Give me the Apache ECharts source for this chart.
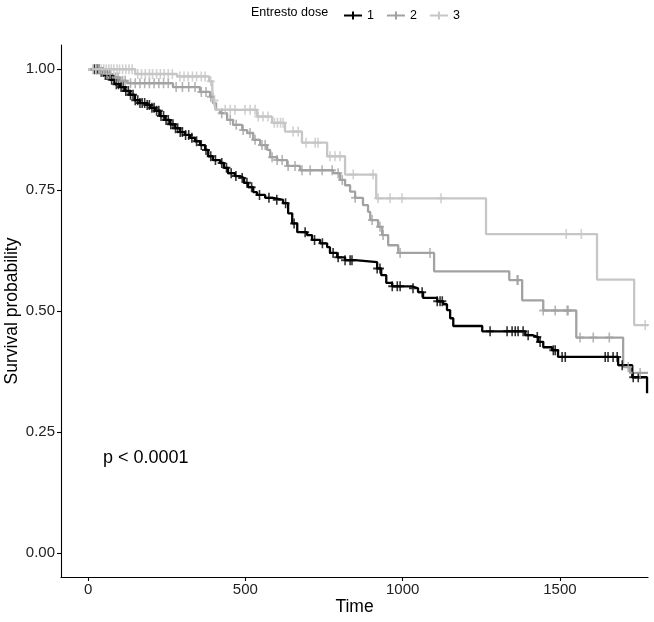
<!DOCTYPE html>
<html><head><meta charset="utf-8">
<script src="https://cdn.jsdelivr.net/npm/echarts@6/dist/echarts.min.js"></script>
<style>html,body{margin:0;padding:0;background:#fff}#c{width:654px;height:622px}</style>
</head><body><div id="c"></div>
<script>
const groups = ['1', '2', '3'];
const legendTitle = 'Entresto dose';
const xTicks = [0, 500, 1000, 1500];
const yTicks = [0, 0.25, 0.5, 0.75, 1];
const pText = 'p < 0.0001';

// Kaplan-Meier steps: [time, survival from this time on]
const surv1 = [[0,1],[38,0.994],[51,0.988],[70,0.978],[86,0.969],[102,0.963],[118,0.955],[134,0.947],[149,0.936],[165,0.930],[181,0.926],[197,0.920],[213,0.914],[229,0.903],[245,0.895],[261,0.886],[277,0.878],[293,0.870],[308,0.864],[324,0.858],[340,0.851],[356,0.843],[372,0.833],[382,0.820],[397,0.812],[420,0.806],[432,0.796],[445,0.785],[467,0.779],[483,0.775],[496,0.765],[509,0.756],[525,0.746],[537,0.740],[563,0.734],[588,0.730],[620,0.723],[636,0.702],[649,0.681],[665,0.663],[696,0.657],[712,0.647],[738,0.640],[760,0.632],[769,0.620],[792,0.611],[817,0.605],[849,0.601],[919,0.588],[932,0.574],[948,0.558],[967,0.551],[1030,0.547],[1049,0.539],[1065,0.527],[1110,0.520],[1129,0.514],[1141,0.502],[1151,0.485],[1161,0.469],[1253,0.458],[1390,0.450],[1412,0.446],[1431,0.436],[1447,0.425],[1475,0.419],[1494,0.405],[1685,0.388],[1730,0.363],[1777,0.33]];
const surv2 = [[0,1],[38,0.994],[54,0.99],[76,0.983],[102,0.976],[124,0.971],[270,0.963],[356,0.953],[388,0.943],[397,0.93],[407,0.916],[420,0.909],[442,0.895],[461,0.885],[490,0.874],[506,0.868],[525,0.854],[547,0.843],[569,0.833],[579,0.818],[601,0.812],[633,0.800],[674,0.791],[779,0.785],[801,0.771],[817,0.760],[833,0.747],[849,0.734],[874,0.719],[890,0.705],[897,0.688],[922,0.674],[935,0.657],[954,0.636],[986,0.620],[1100,0.582],[1339,0.564],[1380,0.522],[1447,0.501],[1552,0.445],[1701,0.384],[1723,0.372],[1780,0.372]];
const surv3 = [[0,1],[150,0.99],[283,0.985],[385,0.975],[395,0.955],[400,0.935],[405,0.916],[537,0.902],[585,0.889],[626,0.871],[680,0.848],[760,0.820],[817,0.782],[916,0.733],[1265,0.659],[1618,0.565],[1736,0.471],[1780,0.471]];

// censoring times
const cens1 = [20,28,35,42,48,55,60,68,75,82,90,97,105,112,120,128,135,143,150,158,165,172,180,188,195,203,210,218,225,232,240,248,255,263,270,278,285,293,300,310,320,330,345,360,375,390,405,425,440,455,470,490,505,520,545,575,600,628,655,690,720,745,779,795,817,833,839,919,928,967,983,992,1033,1062,1110,1119,1126,1278,1332,1348,1358,1367,1383,1399,1428,1437,1479,1485,1507,1517,1644,1653,1669,1682,1698,1733,1749];
const cens2 = [25,45,60,70,88,95,110,118,135,150,165,180,195,210,225,240,255,280,300,320,340,360,375,390,425,452,471,493,515,531,553,563,585,601,617,636,658,680,706,744,776,795,808,849,903,928,938,992,1087,1364,1367,1447,1485,1523,1526,1564,1606,1657,1717,1755];
const cens3 = [15,25,35,42,50,58,66,74,82,92,100,110,120,130,140,158,170,182,195,205,218,230,242,255,268,292,305,318,332,345,360,372,390,402,436,452,467,499,515,531,541,556,572,592,602,612,620,652,668,693,722,731,769,785,801,843,906,922,960,998,1122,1520,1568,1771];

const colors = ['#000000', '#A2A2A2', '#C6C6C6'];
const survs = [surv1, surv2, surv3];
const cens = [cens1, cens2, cens3];

function survAt(steps, t) {
  let v = steps[0][1];
  for (const [ti, vi] of steps) { if (ti <= t) v = vi; else break; }
  return v;
}
const plusPath = 'path://M4,0H6V4H10V6H6V10H4V6H0V4H4Z';
const font = 'Liberation Sans, Arial, sans-serif';

const series = [];
survs.forEach((s, i) => {
  series.push({
    name: groups[i], type: 'line', step: 'end', data: s, showSymbol: false, symbol: 'none',
    lineStyle: { color: colors[i], width: 2.3 }, itemStyle: { color: colors[i] },
    z: 2 + i, animation: false
  });
});
cens.forEach((c, i) => {
  series.push({
    name: 'cens' + groups[i], type: 'scatter',
    data: c.map(t => [t, survAt(survs[i], t)]),
    symbol: plusPath, symbolSize: [8, 10],
    itemStyle: { color: colors[i] }, z: 6 + i, animation: false, silent: true
  });
});

const chart = echarts.init(document.getElementById('c'), null, { renderer: 'canvas' });
chart.setOption({
  backgroundColor: '#ffffff',
  animation: false,
  grid: { left: 61, right: 6, top: 45, bottom: 45, containLabel: false, outerBoundsMode: 'none' },
  legend: {
    data: groups, left: 339, top: 4, itemWidth: 18, itemHeight: 8, itemGap: 13,
    icon: 'path://M0,3H8V0H10V3H18V5H10V8H8V5H0Z',
    textStyle: { fontFamily: font, fontSize: 12.5, color: '#000' }, selectedMode: false
  },
  graphic: [
    { type: 'text', x: 251, y: 12.5, style: { text: legendTitle, font: '12.5px ' + font, fill: '#000', verticalAlign: 'middle' } },
    { type: 'text', x: 103, y: 458, style: { text: pText, font: '18px ' + font, fill: '#000', verticalAlign: 'middle' } }
  ],
  xAxis: {
    type: 'value', min: -86, max: 1780,
    name: 'Time', nameLocation: 'middle', nameGap: 21, nameMoveOverlap: false,
    nameTextStyle: { fontFamily: font, fontSize: 17.5, color: '#000' },
    axisLine: { show: true, onZero: false, lineStyle: { color: '#000', width: 1.1 } },
    axisTick: { show: true, length: 4, customValues: xTicks, lineStyle: { color: '#000', width: 1.1 } },
    axisLabel: { customValues: xTicks, margin: 5, fontFamily: font, fontSize: 15, color: '#222',
      formatter: v => String(v) },
    splitLine: { show: false }
  },
  yAxis: {
    type: 'value', min: -0.05, max: 1.05,
    name: 'Survival probability', nameLocation: 'middle', nameGap: 40, nameMoveOverlap: false,
    nameTextStyle: { fontFamily: font, fontSize: 17.5, color: '#000' },
    axisLine: { show: true, onZero: false, lineStyle: { color: '#000', width: 1.1 } },
    axisTick: { show: true, length: 4, customValues: yTicks, lineStyle: { color: '#000', width: 1.1 } },
    axisLabel: { customValues: yTicks, margin: 6, fontFamily: font, fontSize: 15, color: '#222',
      formatter: v => v.toFixed(2) },
    splitLine: { show: false }
  },
  series: series
});
</script></body></html>
